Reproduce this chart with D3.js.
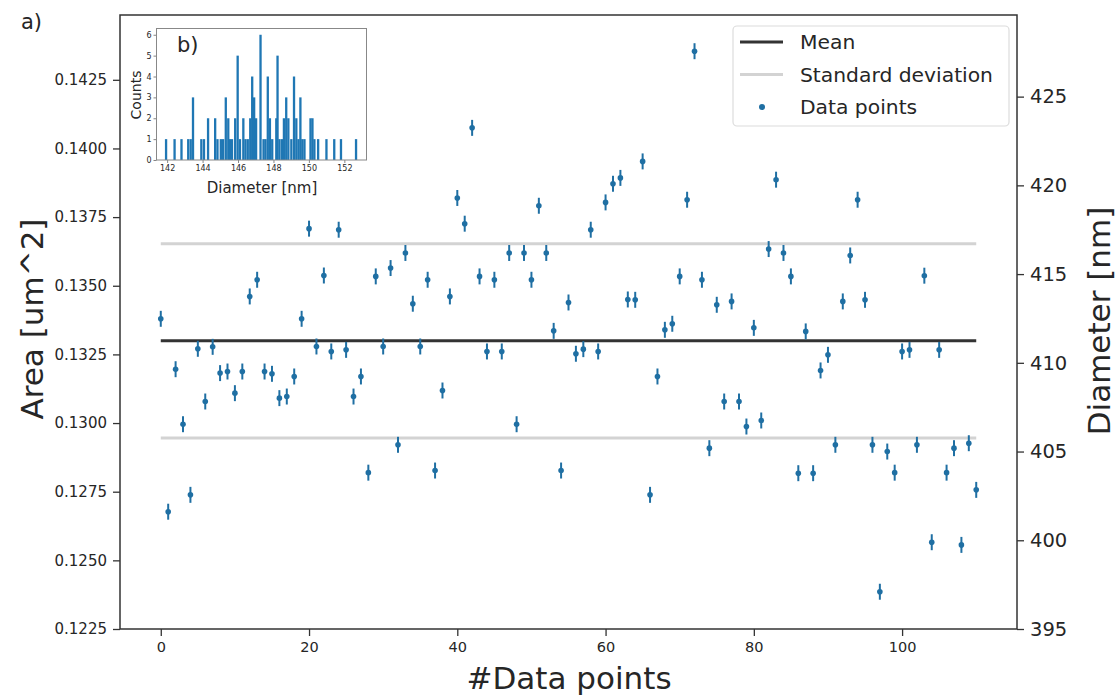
<!DOCTYPE html>
<html>
<head>
<meta charset="utf-8">
<script src="https://cdn.jsdelivr.net/npm/d3@7"></script>
<style>
  body { margin: 0; background: #fff; }
  text { font-family: "DejaVu Sans", sans-serif; fill: #262626; }
</style>
</head>
<body>
<div id="chart"></div>
<script>
// diameters in nm, one per data point (index = position in array)
const diameters = [
  412.48, 401.61, 409.64, 406.54, 402.56, 410.79, 407.82, 410.90, 409.42, 409.51,
  408.29, 409.51, 413.74, 414.68, 409.51, 409.38, 408.01, 408.10, 409.23, 412.48,
  417.56, 410.92, 414.92, 410.64, 417.50, 410.73, 408.10, 409.23, 403.81, 414.87,
  410.92, 415.34, 405.38, 416.19, 413.33, 410.92, 414.68, 403.93, 408.44, 413.74,
  419.29, 417.84, 423.24, 414.87, 410.64, 414.68, 410.64, 416.19, 406.54, 416.19,
  414.68, 418.85, 416.19, 411.80, 403.93, 413.40, 410.51, 410.77, 417.50, 410.64,
  419.04, 420.09, 420.42, 413.57, 413.55, 421.35, 402.56, 409.23, 411.86, 412.20,
  414.87, 419.19, 427.56, 414.68, 405.19, 413.27, 407.82, 413.46, 407.82, 406.41,
  411.97, 406.75, 416.41, 420.32, 416.19, 414.87, 403.78, 411.77, 403.78, 409.57,
  410.45, 405.38, 413.46, 416.05, 419.19, 413.55, 405.38, 397.10, 405.00, 403.81,
  410.64, 410.73, 405.38, 414.91, 399.89, 410.73, 403.81, 405.19, 399.74, 405.47,
  402.84
];
const errNm = 0.45;
const meanNm = 411.24;
const stdNm = 5.47;

const xTicks = [0, 20, 40, 60, 80, 100];
const areaTicks = [0.1225, 0.1250, 0.1275, 0.1300, 0.1325, 0.1350, 0.1375, 0.1400, 0.1425];
const diamTicks = [395, 400, 405, 410, 415, 420, 425];

// inset histogram (bin centre in nm, count)
const histCenters = [
  141.94, 142.42, 142.81, 143.19, 143.33, 143.46, 143.93, 144.08, 144.31, 144.71,
  144.84, 145.03, 145.16, 145.31, 145.45, 145.54, 145.66, 145.84, 145.98, 146.11,
  146.30, 146.42, 146.55, 146.69, 146.80, 146.91, 147.02, 147.27, 147.44, 147.55,
  147.68, 147.80, 147.93, 148.16, 148.23, 148.34, 148.48, 148.59, 148.72, 148.84,
  149.01, 149.16, 149.29, 149.41, 149.52, 149.63, 149.75, 150.09, 150.20, 150.31,
  150.52, 150.99, 151.43, 151.81, 152.66
];
const histCounts = [
  1, 1, 1, 1, 1, 3, 1, 1, 2, 2,
  1, 1, 1, 3, 2, 1, 1, 2, 5, 1,
  2, 1, 1, 2, 4, 3, 2, 6, 1, 1,
  4, 2, 1, 2, 5, 1, 1, 2, 3, 2,
  1, 4, 2, 1, 3, 1, 1, 2, 2, 1,
  1, 1, 1, 1, 1
];
const histBinWidth = 0.13;
const histXTicks = [142, 144, 146, 148, 150, 152];
const histYTicks = [0, 1, 2, 3, 4, 5, 6];

const W = 1116, H = 698;
const plot = { left: 120, right: 1017, top: 15, bottom: 629 };
const blue = "#1f6fa3";

const svg = d3.select("#chart").append("svg")
  .attr("width", W).attr("height", H);

const x = d3.scaleLinear().domain([-5.5, 115.5]).range([plot.left, plot.right]);
const yDiam = d3.scaleLinear().domain([395, 429.6]).range([plot.bottom, plot.top]);
const yArea = d3.scaleLinear().domain([0.1225, 0.14486]).range([plot.bottom, plot.top]);

function styleAxis(g, size) {
  g.select(".domain").remove();
  g.selectAll(".tick line").attr("stroke", "#333").attr("stroke-width", 1.3);
  g.selectAll(".tick text").attr("font-size", size).attr("font-family", "DejaVu Sans").attr("fill", "#262626");
}

// axes
svg.append("g").attr("transform", `translate(0,${plot.bottom})`)
  .call(d3.axisBottom(x).tickValues(xTicks).tickSize(7).tickPadding(6))
  .call(g => styleAxis(g, 14.5));
svg.append("g").attr("transform", `translate(${plot.left},0)`)
  .call(d3.axisLeft(yArea).tickValues(areaTicks).tickFormat(d3.format(".4f")).tickSize(7).tickPadding(6))
  .call(g => styleAxis(g, 15));
svg.append("g").attr("transform", `translate(${plot.right},0)`)
  .call(d3.axisRight(yDiam).tickValues(diamTicks).tickSize(7).tickPadding(6))
  .call(g => styleAxis(g, 19.5));

// mean and std lines
const x0 = 0, x1 = diameters.length - 1;
[[meanNm - stdNm, "#d3d3d3"], [meanNm + stdNm, "#d3d3d3"], [meanNm, "#333"]].forEach(([v, c]) => {
  svg.append("line")
    .attr("x1", x(x0)).attr("x2", x(x1))
    .attr("y1", yDiam(v)).attr("y2", yDiam(v))
    .attr("stroke", c).attr("stroke-width", 3);
});

// data points with error bars
const pts = svg.append("g").selectAll("g").data(diameters).join("g");
pts.append("line")
  .attr("x1", (d, i) => x(i)).attr("x2", (d, i) => x(i))
  .attr("y1", d => yDiam(d - errNm)).attr("y2", d => yDiam(d + errNm))
  .attr("stroke", blue).attr("stroke-width", 2);
pts.append("circle")
  .attr("cx", (d, i) => x(i)).attr("cy", d => yDiam(d))
  .attr("r", 2.8).attr("fill", blue);

// frame
svg.append("rect")
  .attr("x", plot.left).attr("y", plot.top)
  .attr("width", plot.right - plot.left).attr("height", plot.bottom - plot.top)
  .attr("fill", "none").attr("stroke", "#333").attr("stroke-width", 1.5);

// axis titles
svg.append("text").attr("x", 569).attr("y", 689).attr("text-anchor", "middle")
  .attr("font-size", 31).text("#Data points");
svg.append("text").attr("transform", "translate(43,319) rotate(-90)").attr("text-anchor", "middle")
  .attr("font-size", 31).text("Area [um^2]");
svg.append("text").attr("transform", "translate(1110,321) rotate(-90)").attr("text-anchor", "middle")
  .attr("font-size", 31).text("Diameter [nm]");
svg.append("text").attr("x", 21).attr("y", 29).attr("font-size", 21).text("a)");

// legend
const lg = svg.append("g");
lg.append("rect").attr("x", 733).attr("y", 26).attr("width", 276).attr("height", 100)
  .attr("rx", 4).attr("fill", "#fff").attr("stroke", "#dcdcdc").attr("stroke-width", 1.2);
const legendItems = ["Mean", "Standard deviation", "Data points"];
legendItems.forEach((t, i) => {
  const yy = 42 + i * 32.5;
  if (i < 2) {
    lg.append("line").attr("x1", 740).attr("x2", 783).attr("y1", yy).attr("y2", yy)
      .attr("stroke", i === 0 ? "#333" : "#d3d3d3").attr("stroke-width", 3);
  } else {
    lg.append("circle").attr("cx", 762).attr("cy", yy).attr("r", 3).attr("fill", blue);
  }
  lg.append("text").attr("x", 800).attr("y", yy).attr("dy", "0.36em")
    .attr("font-size", 20.3).text(t);
});

// inset histogram
const ins = { left: 156.5, right: 366.5, top: 28.5, bottom: 160 };
const hx = d3.scaleLinear().domain([141.4, 153.25]).range([ins.left, ins.right]);
const hy = d3.scaleLinear().domain([0, 6.3]).range([ins.bottom, ins.top]);
const ig = svg.append("g");
ig.append("rect").attr("x", ins.left).attr("y", ins.top)
  .attr("width", ins.right - ins.left).attr("height", ins.bottom - ins.top)
  .attr("fill", "#fff").attr("stroke", "none");
ig.append("g").selectAll("rect").data(histCenters).join("rect")
  .attr("x", d => hx(d - histBinWidth / 2))
  .attr("width", d => hx(d + histBinWidth / 2) - hx(d - histBinWidth / 2))
  .attr("y", (d, i) => hy(histCounts[i]))
  .attr("height", (d, i) => hy(0) - hy(histCounts[i]))
  .attr("fill", "#1f77b4");
const insetTicks = g => {
  styleAxis(g, 8);
  g.selectAll(".tick line").attr("stroke", "#666").attr("stroke-width", 0.8);
  g.selectAll(".tick text").attr("fill", "#444");
};
ig.append("g").attr("transform", `translate(0,${ins.bottom})`)
  .call(d3.axisBottom(hx).tickValues(histXTicks).tickFormat(d3.format("d")).tickSize(3).tickPadding(2))
  .call(insetTicks);
ig.append("g").attr("transform", `translate(${ins.left},0)`)
  .call(d3.axisLeft(hy).tickValues(histYTicks).tickFormat(d3.format("d")).tickSize(3).tickPadding(2))
  .call(insetTicks);
ig.append("rect").attr("x", ins.left).attr("y", ins.top)
  .attr("width", ins.right - ins.left).attr("height", ins.bottom - ins.top)
  .attr("fill", "none").attr("stroke", "#888").attr("stroke-width", 1);
ig.append("text").attr("x", 177).attr("y", 52).attr("font-size", 21).text("b)");
ig.append("text").attr("x", 262).attr("y", 193).attr("text-anchor", "middle")
  .attr("font-size", 15).attr("fill", "#333").text("Diameter [nm]");
ig.append("text").attr("transform", "translate(141,95) rotate(-90)").attr("text-anchor", "middle")
  .attr("font-size", 14).attr("fill", "#333").text("Counts");
</script>
</body>
</html>
